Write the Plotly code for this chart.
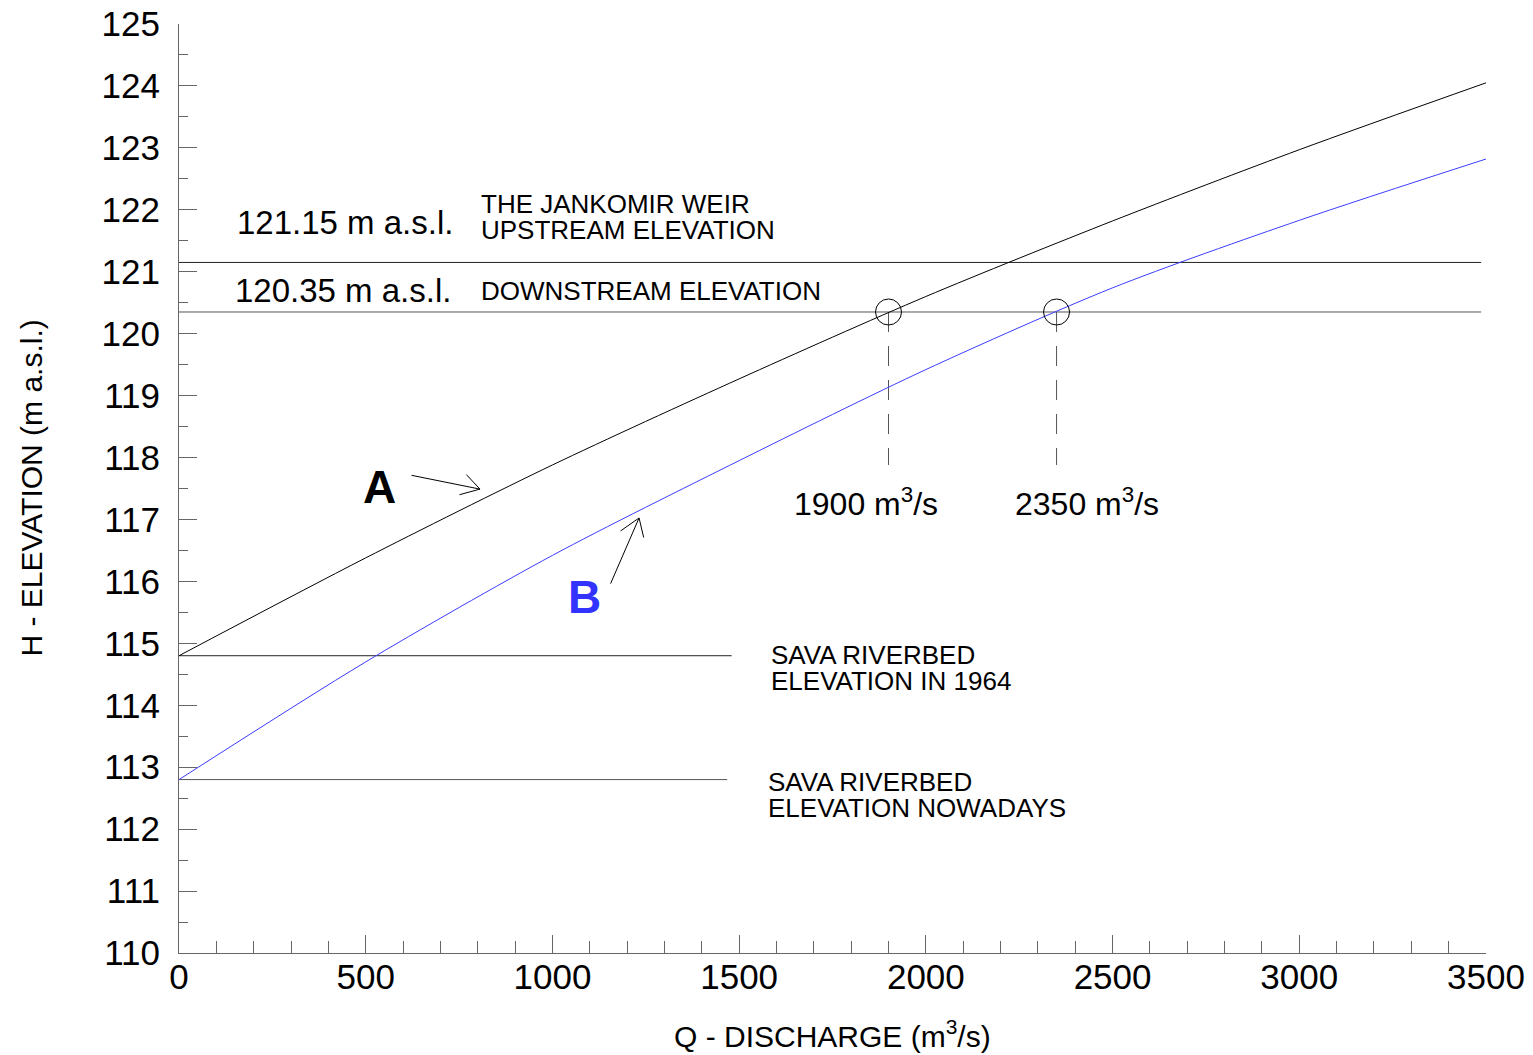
import plotly.graph_objects as go

# ---------------- data ----------------
Q_CURVE = [0, 500, 1000, 1500, 2000, 2500, 3000, 3500]
H_CURVE_A = [114.8, 116.38, 117.88, 119.27, 120.6, 121.82, 122.97, 124.05]
H_CURVE_B = [112.8, 114.7, 116.42, 117.95, 119.42, 120.74, 121.83, 122.82]

REF_LEVELS = [121.15, 120.35, 114.8, 112.8]
REF_ENDS_Q = [3487, 3487, 1480, 1468]
REF_COLORS = ["#222222", "#555555", "#222222", "#555555"]

MARK_Q = [1900, 2350]
MARK_H = [120.35, 120.35]
MARK_DROP_H = 117.88

X_TICKS = [0, 500, 1000, 1500, 2000, 2500, 3000, 3500]
Y_TICKS = list(range(110, 126))

FONT = "Liberation Sans, Arial, sans-serif"
AXIS_GRAY = "#666666"
BLUE = "#3c3cff"

fig = go.Figure()

for lvl, qe, col in zip(REF_LEVELS, REF_ENDS_Q, REF_COLORS):
    fig.add_trace(go.Scatter(x=[0, qe], y=[lvl, lvl], mode="lines",
                             line=dict(color=col, width=1), hoverinfo="skip",
                             showlegend=False))

for q, h in zip(MARK_Q, MARK_H):
    fig.add_trace(go.Scatter(x=[q, q], y=[h, MARK_DROP_H], mode="lines",
                             line=dict(color="#555555", width=1, dash="20px,14px"),
                             hoverinfo="skip", showlegend=False))

fig.add_trace(go.Scatter(x=Q_CURVE, y=H_CURVE_A, mode="lines",
                         line=dict(color="black", width=1, shape="spline", smoothing=0.8),
                         showlegend=False))
fig.add_trace(go.Scatter(x=Q_CURVE, y=H_CURVE_B, mode="lines",
                         line=dict(color=BLUE, width=1, shape="spline", smoothing=0.8),
                         showlegend=False))

fig.add_trace(go.Scatter(x=MARK_Q, y=MARK_H, mode="markers",
                         marker=dict(symbol="circle-open", size=26,
                                     line=dict(color="black", width=1), color="black"),
                         showlegend=False))

annotations = []

def txt(x, y, s, size, anchor="left", color="black", bold=False, xshift=0):
    if bold:
        s = "<b>" + s + "</b>"
    annotations.append(dict(x=x, y=y, xref="x", yref="y", text=s, showarrow=False,
                            xanchor=anchor, yanchor="middle", borderpad=0, xshift=xshift,
                            font=dict(family=FONT, size=size, color=color)))

txt(731, 121.80, "121.15 m a.s.l.", 33, anchor="right", xshift=2)
txt(726, 120.705, "120.35 m a.s.l.", 33, anchor="right", xshift=2)
txt(811, 122.094, "THE JANKOMIR WEIR", 26, xshift=-2)
txt(811, 121.674, "UPSTREAM ELEVATION", 26, xshift=-2)
txt(811, 120.689, "DOWNSTREAM ELEVATION", 26, xshift=-2)
txt(538, 117.524, "A", 46, anchor="center", bold=True)
txt(1085, 115.748, "B", 46, anchor="center", color="#3333ff", bold=True)
txt(1650, 117.28, "1900 m<sup>3</sup>/s", 32, xshift=-2)
txt(2241, 117.28, "2350 m<sup>3</sup>/s", 32, xshift=-2)
txt(1588, 114.811, "SAVA RIVERBED", 26, xshift=-2)
txt(1588, 114.392, "ELEVATION IN 1964", 26, xshift=-2)
txt(1580, 112.761, "SAVA RIVERBED", 26, xshift=-2)
txt(1580, 112.341, "ELEVATION NOWADAYS", 26, xshift=-2)

# arrows: shaft (data coords) + two barbs (pixel offsets from head)
ARROWS = [
    dict(head=(806, 117.49), tail=(618.6, 117.718), barbs=[(-15, -16), (-22, 6)]),
    dict(head=(1232, 117.024), tail=(1154, 115.94), barbs=[(-20, 14), (5, 21)]),
]
for a in ARROWS:
    hx, hy = a["head"]
    tx, ty = a["tail"]
    annotations.append(dict(x=hx, y=hy, ax=tx, ay=ty, xref="x", yref="y",
                            axref="x", ayref="y", text="", showarrow=True,
                            arrowhead=0, arrowwidth=1, arrowcolor="black",
                            standoff=0, startstandoff=0))
    for bx, by in a["barbs"]:
        annotations.append(dict(x=hx, y=hy, ax=bx, ay=by, xref="x", yref="y",
                                text="", showarrow=True, arrowhead=0, arrowwidth=1,
                                arrowcolor="black", standoff=0, startstandoff=0))

annotations.append(dict(x=0.5, y=0, xref="paper", yref="paper", yshift=-81,
                        text="Q - DISCHARGE (m<sup>3</sup>/s)", showarrow=False,
                        xanchor="center", yanchor="middle",
                        font=dict(family=FONT, size=30, color="black")))
annotations.append(dict(x=0, y=0.5, xref="paper", yref="paper", xshift=-148,
                        text="H - ELEVATION (m a.s.l.)", showarrow=False, textangle=-90,
                        xanchor="center", yanchor="middle",
                        font=dict(family=FONT, size=30, color="black")))

fig.update_layout(
    width=1533, height=1055,
    margin=dict(l=179, r=47, t=24, b=102),
    plot_bgcolor="white", paper_bgcolor="white",
    annotations=annotations,
    xaxis=dict(range=[0, 3500], tickvals=X_TICKS, ticks="inside", ticklen=18,
               tickwidth=1, tickcolor=AXIS_GRAY, showline=True, linecolor=AXIS_GRAY,
               linewidth=1, showgrid=False, zeroline=False, automargin=False,
               minor=dict(dtick=100, ticks="inside", ticklen=12, tickcolor=AXIS_GRAY,
                          tickwidth=1, showgrid=False),
               tickfont=dict(family=FONT, size=35, color="black"),
               ticklabelstandoff=-7),
    yaxis=dict(range=[110, 125], tickvals=Y_TICKS, ticks="inside", ticklen=18,
               tickwidth=1, tickcolor=AXIS_GRAY, showline=True, linecolor=AXIS_GRAY,
               linewidth=1, showgrid=False, zeroline=False, automargin=False,
               minor=dict(dtick=0.5, ticks="inside", ticklen=9, tickcolor=AXIS_GRAY,
                          tickwidth=1, showgrid=False),
               tickfont=dict(family=FONT, size=35, color="black"),
               ticklabelstandoff=11),
)

fig.write_html("out.html")
